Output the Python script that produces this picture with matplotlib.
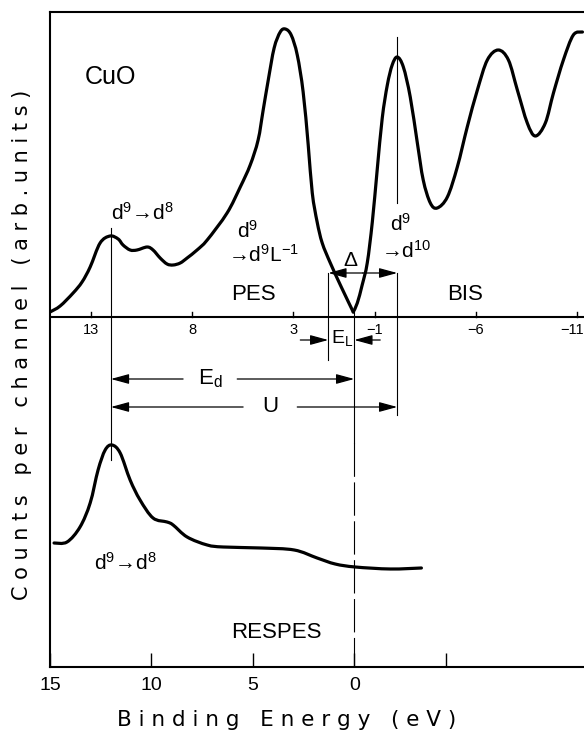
import matplotlib
matplotlib.use("Agg")
import matplotlib.pyplot as plt
import numpy as np
from matplotlib.path import Path
from matplotlib.patches import PathPatch

plt.rcParams['font.family'] = ['Liberation Sans', 'DejaVu Sans']
plt.rcParams['mathtext.fontset'] = 'custom'
plt.rcParams['mathtext.rm'] = 'Liberation Sans'
plt.rcParams['mathtext.it'] = 'Liberation Sans'
plt.rcParams['mathtext.default'] = 'regular'

# ---- data (binding energy in eV, counts in arb. units) ----
# PES part (ends at the Fermi-level minimum)
pes_energy = [15.00, 14.50, 13.86, 13.42, 13.02, 12.53, 12.04, 11.64, 11.40, 11.05,
              10.71, 10.21, 9.92, 9.57, 9.23, 8.93, 8.58, 8.24, 7.75, 7.25,
              6.27, 5.62, 5.13, 4.74, 4.49, 4.24, 3.95, 3.65, 3.40, 3.11,
              2.81, 2.52, 2.27, 2.07, 1.83, 1.58, 1.18, 0.64, 0.05]
pes_counts = [355, 361, 374, 385, 400, 424, 431, 428, 422, 417,
              417, 420, 417, 409, 403, 402, 404, 409, 417, 427,
              454, 480, 502, 527, 557, 587, 619, 635, 638, 632,
              612, 575, 522, 474, 445, 424, 404, 380, 355]
# BIS part (starts at the Fermi-level minimum)
bis_energy = [0.05, -0.15, -0.39, -0.64, -0.89, -1.13, -1.38, -1.63, -1.87, -2.12,
              -2.42, -2.76, -3.11, -3.40, -3.75, -4.09, -4.59, -5.08, -5.57, -6.07,
              -6.56, -7.10, -7.60, -8.04, -8.53, -8.93, -9.42, -9.82, -10.31, -10.80,
              -11.25]
bis_counts = [355, 364, 382, 404, 445, 497, 549, 582, 602, 610,
              600, 570, 524, 487, 464, 459, 470, 500, 540, 577,
              607, 617, 607, 577, 544, 531, 544, 574, 607, 632,
              635]

respes_energy = [14.80, 14.16, 13.52, 13.02, 12.63, 12.28, 11.94, 11.54, 11.05, 10.56,
                 9.92, 9.23, 8.93, 8.24, 7.25, 6.46, 4.59, 2.96, 1.83, 0.94,
                 -0.05, -1.78, -3.31]
respes_counts = [124, 125, 140, 164, 197, 217, 222, 214, 187, 167,
                 149, 145, 142, 130, 122, 120, 119, 117, 109, 103,
                 100, 98, 99]

inner_ticks = [13, 8, 3, -1, -6, -11]
inner_tick_labels = ['13', '8', '3', '\u22121', '\u22126', '\u221211']
bottom_ticks = [15, 10, 5, 0, -4.5]
bottom_tick_labels = ['15', '10', '5', '0', '']

inner_baseline = 350
E_d_peak = 12.0
E_F = 0.0
E_L_edge = 1.28
E_bis = -2.12


def smooth_path(xs, ys):
    """Catmull-Rom curve through the read points, as cubic Bezier segments."""
    P = np.column_stack([xs, ys]).astype(float)
    n = len(P)
    verts = [P[0]]
    codes = [Path.MOVETO]
    for i in range(n - 1):
        p0 = P[i - 1] if i > 0 else P[i]
        p1, p2 = P[i], P[i + 1]
        p3 = P[i + 2] if i + 2 < n else P[i + 1]
        verts += [p1 + (p2 - p0) / 6.0, p2 - (p3 - p1) / 6.0, p2]
        codes += [Path.CURVE4] * 3
    return Path(verts, codes)


fig = plt.figure(figsize=(5.84, 7.33), dpi=100)
ax = fig.add_axes([50/584, (733-667)/733, (585.5-50)/584, (667-12)/733])
ax.set_xlim(15, -11.4)
ax.set_ylim(0, 655)
for s in ax.spines.values():
    s.set_linewidth(1.5)

ax.set_xticks(bottom_ticks)
ax.set_xticklabels(bottom_tick_labels, fontsize=14)
ax.tick_params(axis='x', direction='in', length=10, width=1.0, pad=7)
ax.set_yticks([])

# curves
for xs, ys in [(pes_energy, pes_counts), (bis_energy, bis_counts),
               (respes_energy, respes_counts)]:
    ax.add_patch(PathPatch(smooth_path(xs, ys), fill=False, edgecolor='black',
                           lw=2.3, joinstyle='round', capstyle='round'))

# inner axis for PES/BIS
ax.axhline(inner_baseline, color='black', lw=1.5)
for t, lab in zip(inner_ticks, inner_tick_labels):
    ax.plot([t, t], [inner_baseline, inner_baseline + 5], color='black', lw=1)
    if t == inner_ticks[-1]:
        ax.text(-11.3, inner_baseline - 6, lab, ha='right', va='top', fontsize=10.5)
    else:
        ax.text(t, inner_baseline - 6, lab, ha='center', va='top', fontsize=10.5)

# vertical guide lines
thin = dict(color='black', lw=0.8)
ax.plot([E_d_peak, E_d_peak], [439, 207], **thin)
ax.plot([E_F, E_F], [355, 224], **thin)
ax.plot([E_F, E_F], [224, 0], color='black', lw=0.8, linestyle=(0, (30, 5)))
ax.plot([E_L_edge, E_L_edge], [394, 307], **thin)
ax.plot([E_bis, E_bis], [630, 464], **thin)
ax.plot([E_bis, E_bis], [394, 252], **thin)


def arrow(x0, x1, y):
    ax.annotate('', xy=(x1, y), xytext=(x0, y),
                arrowprops=dict(arrowstyle='-|>,head_length=1.1,head_width=0.3',
                                mutation_scale=10, lw=0.9, color='black',
                                shrinkA=0, shrinkB=0))


# Delta bracket
mid = (E_L_edge + E_bis) / 2
arrow(mid, E_L_edge, 394)
arrow(mid, E_bis, 394)
# E_L arrows
arrow(2.66, E_L_edge, 327)
arrow(-1.28, E_F, 327)
# E_d
arrow(8.44, E_d_peak, 288)
arrow(5.77, E_F, 288)
# U
arrow(5.48, E_d_peak, 260)
arrow(2.81, E_bis, 260)

# labels
ax.text(12.04, 590, 'CuO', ha='center', va='center', fontsize=18)
ax.text(10.46, 454, 'd$^9$\u2192d$^8$', ha='center', va='center', fontsize=15)
ax.text(5.28, 436, 'd$^9$', ha='center', va='center', fontsize=15)
ax.text(4.49, 412, '\u2192d$^9$L$^{-1}$', ha='center', va='center', fontsize=15)
ax.text(4.98, 372, 'PES', ha='center', va='center', fontsize=16)
ax.text(-5.48, 372, 'BIS', ha='center', va='center', fontsize=16)
ax.text(0.2, 407, '\u0394', ha='center', va='center', fontsize=15)
ax.text(-2.27, 443, 'd$^9$', ha='center', va='center', fontsize=15)
ax.text(-2.55, 416, '\u2192d$^{10}$', ha='center', va='center', fontsize=15)
ax.text(0.62, 329, 'E$_L$', ha='center', va='center', fontsize=14)
ax.text(7.1, 288, 'E$_d$', ha='center', va='center', fontsize=16)
ax.text(4.14, 260, 'U', ha='center', va='center', fontsize=16)
ax.text(3.85, 34, 'RESPES', ha='center', va='center', fontsize=16)
ax.text(11.3, 104, 'd$^9$\u2192d$^8$', ha='center', va='center', fontsize=15)

fig.text(287/584, 1 - 720/733, 'B i n d i n g   E n e r g y   ( e V )',
         ha='center', va='center', fontsize=15.5, family='DejaVu Sans')
fig.text(22/584, 1 - 345/733, 'C o u n t s   p e r   c h a n n e l   ( a r b . u n i t s )',
         ha='center', va='center', rotation=90, fontsize=15, family='DejaVu Sans')

fig.savefig('out.png', dpi=100)
